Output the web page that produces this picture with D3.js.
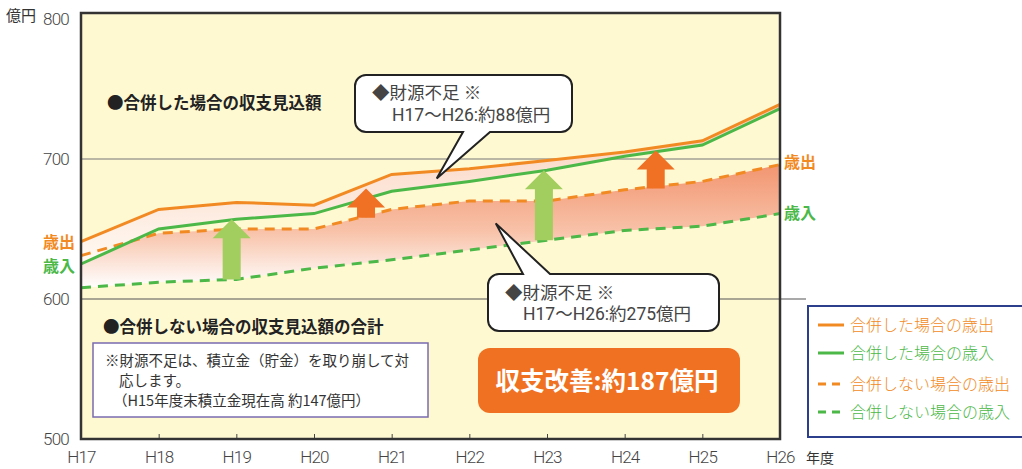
<!DOCTYPE html>
<html>
<head>
<meta charset="utf-8">
<script src="https://cdn.jsdelivr.net/npm/d3@7"></script>
<style>
  body { margin: 0; background: #fff; }
  svg { display: block; }
  .num { font-family: "Roboto", "Noto Sans CJK JP", sans-serif; font-weight: 300; fill: #444; }
  .jp { font-family: "Noto Sans CJK JP", sans-serif; }
</style>
</head>
<body>
<div id="wrapper"></div>
<script>
const years = ["H17", "H18", "H19", "H20", "H21", "H22", "H23", "H24", "H25", "H26"];
const mergedOut = [641, 664, 669, 667, 689, 693, 699, 705, 713, 739];
const mergedIn = [625, 650, 657, 661, 677, 684, 692, 702, 710, 736];
const separateOut = [631, 647, 650, 650, 664, 670, 670, 678, 684, 696];
const separateIn = [608, 612, 614, 622, 628, 635, 642, 649, 652, 661];
const yTicks = [500, 600, 700, 800];

// improvement arrows: position on the year index, from -> to value
const arrows = [
    {at: 3.67, from: 658, to: 679, color: "#f07123"},
    {at: 7.40, from: 679, to: 706, color: "#f07123"},
    {at: 1.94, from: 614, to: 657, color: "#a2cd5f"},
    {at: 5.96, from: 642, to: 692, color: "#a2cd5f"}
];

const legendItems = [
    {label: "合併した場合の歳出", color: "#f28a24", dash: null},
    {label: "合併した場合の歳入", color: "#4cb848", dash: null},
    {label: "合併しない場合の歳出", color: "#f28a24", dash: "8,6"},
    {label: "合併しない場合の歳入", color: "#4cb848", dash: "8,6"}
];

var dimension = {
    width: 1022,
    height: 469,
    margin: {left: 81, right: 242, top: 13, bottom: 30}
};

const svg = d3.select("#wrapper").append("svg")
    .attr("width", dimension.width).attr("height", dimension.height);

const x = d3.scaleLinear().domain([0, years.length - 1])
    .range([dimension.margin.left, dimension.width - dimension.margin.right]);
const y = d3.scaleLinear().domain([500, 800]).range([439, 19]);

const defs = svg.append("defs");
const g1 = defs.append("linearGradient").attr("id", "sepGrad").attr("x1", 0).attr("y1", 0).attr("x2", 0).attr("y2", 1);
g1.append("stop").attr("offset", "0%").attr("stop-color", "#f29570");
g1.append("stop").attr("offset", "55%").attr("stop-color", "#f8c3aa");
g1.append("stop").attr("offset", "100%").attr("stop-color", "#ffffff");
const g2 = defs.append("linearGradient").attr("id", "merGrad").attr("x1", 0).attr("y1", 0).attr("x2", 0).attr("y2", 1);
g2.append("stop").attr("offset", "0%").attr("stop-color", "#f9cdb8");
g2.append("stop").attr("offset", "100%").attr("stop-color", "#fffaf4");

// panel
svg.append("rect")
    .attr("x", x(0)).attr("y", dimension.margin.top)
    .attr("width", x(years.length - 1) - x(0))
    .attr("height", y(500) - dimension.margin.top)
    .attr("fill", "#fff9d2");

// grid lines
svg.append("line").attr("x1", x(0)).attr("x2", x(9)).attr("y1", y(700)).attr("y2", y(700))
    .attr("stroke", "#777").attr("stroke-width", 1.2);
svg.append("line").attr("x1", x(0)).attr("x2", 806).attr("y1", y(600)).attr("y2", y(600))
    .attr("stroke", "#555").attr("stroke-width", 1.2);

// bands
const band = (top, bottom) => d3.area()
    .x((d, i) => x(i))
    .y0((d, i) => y(bottom[i]))
    .y1((d, i) => y(top[i]));

svg.append("path").attr("d", band(separateOut, separateIn)(years)).attr("fill", "url(#sepGrad)");
svg.append("path").attr("d", band(mergedOut, mergedIn)(years)).attr("fill", "url(#merGrad)");

// lines
const line = d3.line().x((d, i) => x(i)).y(d => y(d));
const series = [
    {values: separateIn, color: "#4cb848", dash: "10,7"},
    {values: separateOut, color: "#f28a24", dash: "10,7"},
    {values: mergedIn, color: "#4cb848", dash: null},
    {values: mergedOut, color: "#f28a24", dash: null}
];
series.forEach(s => {
    svg.append("path").attr("d", line(s.values))
        .attr("fill", "none").attr("stroke", s.color).attr("stroke-width", 3)
        .attr("stroke-dasharray", s.dash);
});

// arrows
arrows.forEach(a => {
    const cx = x(a.at), yb = y(a.from), yt = y(a.to);
    const hw = 19, sw = 9, hh = 19;
    svg.append("path")
        .attr("d", `M${cx - sw},${yb} V${yt + hh} H${cx - hw} L${cx},${yt} L${cx + hw},${yt + hh} H${cx + sw} V${yb} Z`)
        .attr("fill", a.color);
});

// axes
const xAxis = d3.axisBottom(x).tickValues(d3.range(years.length))
    .tickFormat(i => years[i]).tickSizeInner(-5).tickSizeOuter(0).tickPadding(12);
const gx = svg.append("g").attr("transform", `translate(0,${y(500)})`).call(xAxis);
gx.select(".domain").remove();
gx.selectAll("line").attr("stroke", "#444");
gx.selectAll("text").attr("class", "num").style("font-size", "17px").style("letter-spacing", "-0.8px");

const yAxis = d3.axisLeft(y).tickValues(yTicks).tickSize(0).tickPadding(12);
const gy = svg.append("g").attr("transform", `translate(${x(0)},0)`).call(yAxis);
gy.select(".domain").remove();
gy.selectAll("text").attr("class", "num").style("font-size", "17px").style("letter-spacing", "-0.8px");

svg.append("text").attr("class", "jp").attr("x", 6).attr("y", y(800) - 3).attr("dy", "0.35em")
    .style("font-size", "15px").attr("fill", "#333").text("億円");
svg.append("text").attr("class", "jp").attr("x", 806).attr("y", y(500) + 19).attr("dy", "0.35em")
    .style("font-size", "14px").attr("fill", "#333").text("年度");

// panel border
svg.append("rect")
    .attr("x", x(0)).attr("y", dimension.margin.top)
    .attr("width", x(years.length - 1) - x(0))
    .attr("height", y(500) - dimension.margin.top)
    .attr("fill", "none").attr("stroke", "#333").attr("stroke-width", 2.5);

// side labels
const sideLabel = (tx, ty, txt, color, anchor) => svg.append("text").attr("class", "jp")
    .attr("x", tx).attr("y", ty).attr("dy", "0.35em").attr("text-anchor", anchor)
    .style("font-size", "16px").style("font-weight", "bold").attr("fill", color).text(txt);
sideLabel(75, 242, "歳出", "#f28a24", "end");
sideLabel(75, 266, "歳入", "#4cb848", "end");
sideLabel(784, 162, "歳出", "#f28a24", "start");
sideLabel(784, 213, "歳入", "#4cb848", "start");

// headings
svg.append("text").attr("class", "jp").attr("x", 107).attr("y", 103).attr("dy", "0.35em")
    .style("font-size", "16.5px").style("font-weight", "bold").attr("fill", "#222").text("●合併した場合の収支見込額");
svg.append("text").attr("class", "jp").attr("x", 103).attr("y", 327).attr("dy", "0.35em")
    .style("font-size", "16.5px").style("font-weight", "bold").attr("fill", "#222").text("●合併しない場合の収支見込額の合計");

// note box
svg.append("rect").attr("x", 93).attr("y", 343).attr("width", 335).attr("height", 74)
    .attr("fill", "#fff").attr("stroke", "#7a6bb0").attr("stroke-width", 1.5);
[["※財源不足は、積立金（貯金）を取り崩して対", 105, 361],
 ["応します。", 119, 381],
 ["（H15年度末積立金現在高 約147億円）", 113, 401]].forEach(t => {
    svg.append("text").attr("class", "jp").attr("x", t[1]).attr("y", t[2]).attr("dy", "0.35em")
        .style("font-size", "14.5px").attr("fill", "#333").text(t[0]);
});

// callouts
function callout(b, tip, p1, p2, side) {
    const r = 11;
    let d;
    if (side === "bottom") {
        d = `M${b.x0 + r},${b.y0} H${b.x1 - r} A${r},${r} 0 0 1 ${b.x1},${b.y0 + r} V${b.y1 - r}` +
            ` A${r},${r} 0 0 1 ${b.x1 - r},${b.y1} H${p2} L${tip[0]},${tip[1]} L${p1},${b.y1}` +
            ` H${b.x0 + r} A${r},${r} 0 0 1 ${b.x0},${b.y1 - r} V${b.y0 + r} A${r},${r} 0 0 1 ${b.x0 + r},${b.y0} Z`;
    } else {
        d = `M${b.x0 + r},${b.y0} H${p1} L${tip[0]},${tip[1]} L${p2},${b.y0} H${b.x1 - r}` +
            ` A${r},${r} 0 0 1 ${b.x1},${b.y0 + r} V${b.y1 - r} A${r},${r} 0 0 1 ${b.x1 - r},${b.y1}` +
            ` H${b.x0 + r} A${r},${r} 0 0 1 ${b.x0},${b.y1 - r} V${b.y0 + r} A${r},${r} 0 0 1 ${b.x0 + r},${b.y0} Z`;
    }
    svg.append("path").attr("d", d).attr("fill", "#fff").attr("stroke", "#222").attr("stroke-width", 2);
}
callout({x0: 355, y0: 75, x1: 572, y1: 132}, [x(4.58), y(686)], 463, 490, "bottom");
callout({x0: 488, y0: 274, x1: 719, y1: 331}, [x(5.34), y(654)], 523, 550, "top");

const calloutText = (tx, ty, txt) => svg.append("text").attr("class", "num")
    .attr("x", tx).attr("y", ty).attr("dy", "0.35em")
    .style("font-size", "17.5px").style("font-weight", "normal").attr("fill", "#333").text(txt);
calloutText(372, 93, "◆財源不足 ※");
calloutText(392, 115, "H17〜H26:約88億円");
calloutText(505, 293, "◆財源不足 ※");
calloutText(523, 314, "H17〜H26:約275億円");

// improvement box
svg.append("rect").attr("x", 478).attr("y", 348).attr("width", 262).attr("height", 65)
    .attr("rx", 12).attr("fill", "#f07122");
svg.append("text").attr("class", "jp").attr("x", 607).attr("y", 381).attr("dy", "0.35em")
    .attr("text-anchor", "middle").style("font-size", "24.5px").style("font-weight", "bold")
    .attr("fill", "#fff").text("収支改善:約187億円");

// legend
svg.append("rect").attr("x", 808).attr("y", 306).attr("width", 220).attr("height", 131)
    .attr("fill", "#fff").attr("stroke", "#2b3f8c").attr("stroke-width", 2);
const legendY = [325, 353, 384, 412];
legendItems.forEach((it, i) => {
    svg.append("line").attr("x1", 818).attr("x2", 844).attr("y1", legendY[i]).attr("y2", legendY[i])
        .attr("stroke", it.color).attr("stroke-width", 3).attr("stroke-dasharray", it.dash);
    svg.append("text").attr("class", "jp").attr("x", 850).attr("y", legendY[i]).attr("dy", "0.35em")
        .style("font-size", "16px").style("font-weight", 300).attr("fill", it.color).text(it.label);
});
</script>
</body>
</html>
